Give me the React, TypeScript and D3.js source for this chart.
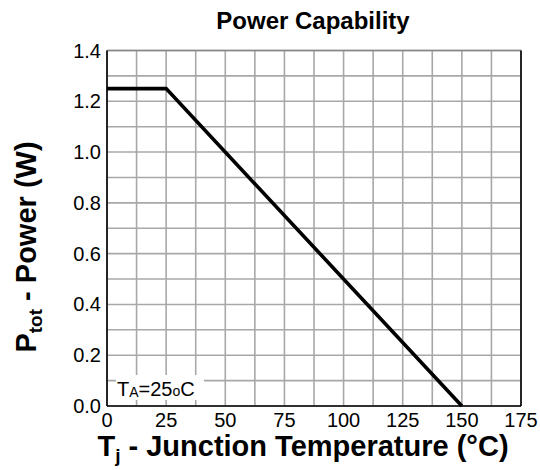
import React from "react";
import * as d3 from "d3";

const tempC: number[] = [0, 25, 150];
const powerW: number[] = [1.25, 1.25, 0];
const xTicks: number[] = [0, 25, 50, 75, 100, 125, 150, 175];
const yTicks: number[] = [0, 0.2, 0.4, 0.6, 0.8, 1.0, 1.2, 1.4];
const xGrid: number[] = d3.range(0, 175.01, 12.5);
const yGrid: number[] = d3.range(0, 1.401, 0.1);

const W = 540, H = 470;
const L = 107, R = 521, T = 50.5, B = 406;

export default function App() {
  const x = d3.scaleLinear().domain([0, 175]).range([L, R]);
  const y = d3.scaleLinear().domain([0, 1.4]).range([B, T]);
  const line = d3.line<number>().x((_, i) => x(tempC[i])).y((d) => y(d));
  const font = "'Liberation Sans', Arial, sans-serif";
  return (
    <svg width={W} height={H} style={{ position: "absolute", left: 0, top: 0, background: "#fff" }} fontFamily={font}>
      <rect x={0} y={0} width={W} height={H} fill="#fff" />
      {xGrid.map((v, i) => (
        <line key={"gx" + i} x1={x(v)} x2={x(v)} y1={T} y2={B} stroke="#a8a8a8" strokeWidth={1.6} />
      ))}
      {yGrid.map((v, i) => (
        <line key={"gy" + i} x1={L} x2={R} y1={y(v)} y2={y(v)} stroke="#a8a8a8" strokeWidth={1.6} />
      ))}
      <line x1={L} x2={R} y1={T} y2={T} stroke="#888" strokeWidth={1.6} />
      <line x1={L} x2={L} y1={T} y2={B} stroke="#000" strokeWidth={1.6} />
      <line x1={R} x2={R} y1={T} y2={B} stroke="#000" strokeWidth={1.6} />
      <line x1={L} x2={R} y1={B} y2={B} stroke="#000" strokeWidth={1.6} />
      <rect x={116} y={375} width={88} height={25} fill="#fff" />
      <text x={117} y={396} fontSize={20} fill="#000">
        T<tspan fontSize={14} dy={1}>A</tspan>
        <tspan dy={-1}>=25</tspan>
        <tspan fontSize={14}>o</tspan>
        <tspan>C</tspan>
      </text>
      <path d={line(powerW) || ""} fill="none" stroke="#000" strokeWidth={3.6} strokeLinejoin="miter" />
      {xTicks.map((v) => (
        <text key={"xt" + v} x={x(v)} y={427} fontSize={20} textAnchor="middle" fill="#000">{v}</text>
      ))}
      {yTicks.map((v) => (
        <text key={"yt" + v} x={101} y={y(v) + 7} fontSize={20} textAnchor="end" fill="#000">{v.toFixed(1)}</text>
      ))}
      <text x={313} y={29} fontSize={24} fontWeight="bold" textAnchor="middle" fill="#000">Power Capability</text>
      <text x={303} y={456} fontSize={29} fontWeight="bold" textAnchor="middle" fill="#000">
        T<tspan fontSize={19} dy={6}>j</tspan><tspan dy={-6}> - Junction Temperature (°C)</tspan>
      </text>
      <text transform={`translate(36, 247) rotate(-90)`} fontSize={29} fontWeight="bold" textAnchor="middle" fill="#000">
        P<tspan fontSize={19} dy={6}>tot</tspan><tspan dy={-6}> - Power (W)</tspan>
      </text>
    </svg>
  );
}
